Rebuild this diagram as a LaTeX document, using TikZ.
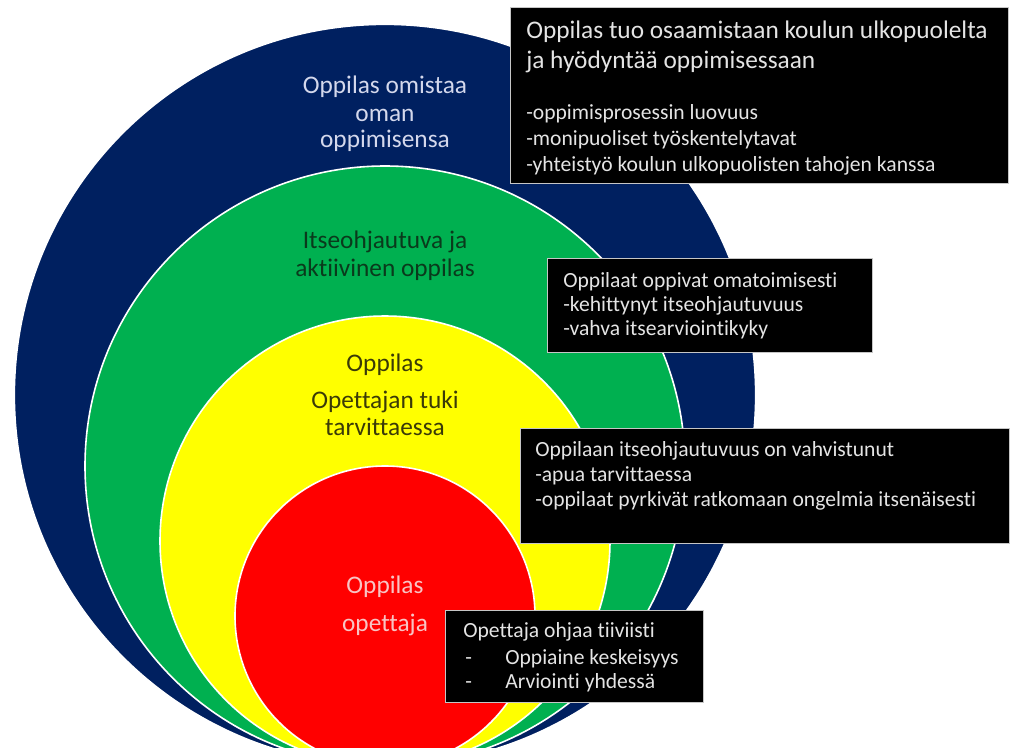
\documentclass[tikz,border=0pt]{standalone}
\usepackage{fontspec}
\setmainfont{Carlito}[Ligatures=NoCommon]
\definecolor{cblue}{HTML}{002060}
\definecolor{cgreen}{HTML}{00B050}
\definecolor{cyellow}{HTML}{FFFF00}
\definecolor{cred}{HTML}{FF0000}
\definecolor{tblue}{HTML}{D4D8EC}
\definecolor{tgreen}{HTML}{0A3A1C}
\definecolor{tyellow}{HTML}{3A3A08}
\definecolor{tred}{HTML}{F8C4C4}
\definecolor{boxfg}{HTML}{E4E4E4}
\begin{document}
\begin{tikzpicture}[x=0.75pt,y=-0.75pt,
  ring/.style={fill=#1, draw=white, line width=1.2pt},
  infobox/.style={fill=black, draw=gray!45, line width=0.8pt, anchor=north west, inner sep=0pt},
  lbl/.style={anchor=base, inner sep=0pt, font=\fontsize{19}{20}\selectfont},
  btxt/.style={anchor=base west, inner sep=0pt, text=boxfg, font=\fontsize{16.2}{19}\selectfont},
  htxt/.style={anchor=base west, inner sep=0pt, text=boxfg, font=\fontsize{19}{22}\selectfont}]
\useasboundingbox (0,0) rectangle (1011,747);
\clip (0,0) rectangle (1011,747);
\fill[white] (0,0) rectangle (1011,747);
% circles
\path[ring=cblue] (385,395) circle[radius=278pt];
\path[ring=cgreen] (385,466) circle[radius=225pt];
\path[ring=cyellow] (385,541) circle[radius=168.75pt];
\path[ring=cred] (385,616) circle[radius=112.5pt];
% circle labels
\node[lbl, text=tblue] (b1) at (385,93) {Oppilas omistaa};
\node[lbl, text=tblue] (b2) at (385,121) {oman};
\node[lbl, text=tblue] (b3) at (385,147) {oppimisensa};
\node[lbl, text=tgreen] (g1) at (385,248) {Itseohjautuva ja};
\node[lbl, text=tgreen] (g2) at (385,276) {aktiivinen oppilas};
\node[lbl, text=tyellow] (y1) at (385,371) {Oppilas};
\node[lbl, text=tyellow] (y2) at (385,408) {Opettajan tuki};
\node[lbl, text=tyellow] (y3) at (385,435) {tarvittaessa};
\node[lbl, text=tred] (r1) at (385,593) {Oppilas};
\node[lbl, text=tred] (r2) at (385,631) {opettaja};
% box 1
\node[infobox, minimum width=373.5pt, minimum height=132pt] (box1) at (510,7) {};
\node[htxt] (t11) at (526,38) {Oppilas tuo osaamistaan koulun ulkopuolelta};
\node[htxt] (t12) at (526,68) {ja hyödyntää oppimisessaan};
\node[btxt] (t13) at (526,119) {-oppimisprosessin luovuus};
\node[btxt] (t14) at (526,145) {-monipuoliset työskentelytavat};
\node[btxt] (t15) at (526,171) {-yhteistyö koulun ulkopuolisten tahojen kanssa};
% box 2
\node[infobox, minimum width=243.75pt, minimum height=70.5pt] (box2) at (547,258) {};
\node[btxt] (t21) at (563,287) {Oppilaat oppivat omatoimisesti};
\node[btxt] (t22) at (563,311) {-kehittynyt itseohjautuvuus};
\node[btxt] (t23) at (563,335) {-vahva itsearviointikyky};
% box 3
\node[infobox, minimum width=366.75pt, minimum height=86.25pt] (box3) at (520,428) {};
\node[btxt] (t31) at (535,456) {Oppilaan itseohjautuvuus on vahvistunut};
\node[btxt] (t32) at (535,481) {-apua tarvittaessa};
\node[btxt] (t33) at (535,506) {-oppilaat pyrkivät ratkomaan ongelmia itsenäisesti};
% box 4
\node[infobox, minimum width=193.5pt, minimum height=69pt] (box4) at (445,610) {};
\node[btxt] (t41) at (463,637) {Opettaja ohjaa tiiviisti};
\node[btxt] (t42) at (465,664) {-};
\node[btxt] (t43) at (505,664) {Oppiaine keskeisyys};
\node[btxt] (t44) at (465,688) {-};
\node[btxt] (t45) at (505,688) {Arviointi yhdessä};
\end{tikzpicture}
\end{document}
